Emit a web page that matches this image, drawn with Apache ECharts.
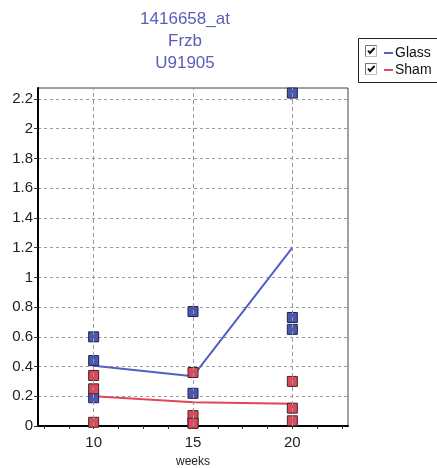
<!DOCTYPE html>
<html>
<head>
<meta charset="utf-8">
<script src="https://cdn.jsdelivr.net/npm/echarts@6/dist/echarts.min.js"></script>
<style>
  html, body { margin: 0; padding: 0; background: #fff; }
  #chart { width: 437px; height: 468px; }
</style>
</head>
<body>
<div id="chart"></div>
<script>
// Frzb expression (probe 1416658_at) by age, Glass vs Sham groups
const titleLines = ['1416658_at', 'Frzb', 'U91905'];
const weeks = [10, 15, 20];
const minorTicks = [7.5, 8.75, 10, 11.25, 12.5, 13.75, 15, 16.25, 17.5, 18.75, 20, 21.25, 22.5];

// individual samples per week
const glassSamples = [[0.60, 0.44, 0.19], [0.77, 0.22, 0.02], [2.24, 0.73, 0.65]];
const shamSamples  = [[0.34, 0.25, 0.025], [0.36, 0.07, 0.018], [0.30, 0.12, 0.035]];
// group trend lines
const glassTrend = [0.405, 0.335, 1.20];
const shamTrend  = [0.20, 0.16, 0.15];

const BLUE = '#5060c4', RED = '#e0485a';
const BLUE_FILL = '#4a58b2', RED_FILL = '#da4a5c';
const FONT = '"Liberation Sans Narrow", "Liberation Sans", Arial, sans-serif';

function points(samples) {
  const out = [];
  samples.forEach((vals, i) => vals.forEach(v => out.push([weeks[i], v])));
  return out;
}
const pairs = arr => arr.map((v, i) => [weeks[i], v]);

// sunken checkbox with a tick mark
function checkbox(top) {
  return { type: 'group', left: 363, top: top, children: [
    { type: 'rect', shape: { x: 0.5, y: 0.5, width: 11, height: 11 }, style: { fill: '#fff', stroke: '#bbb', lineWidth: 1 } },
    { type: 'polyline', shape: { points: [[0.5, 11.5], [0.5, 0.5], [11.5, 0.5]] }, style: { stroke: '#777', lineWidth: 1, fill: null } },
    { type: 'polyline', shape: { points: [[3, 5.5], [5, 8], [9.5, 3]] }, style: { stroke: '#111', lineWidth: 2, fill: null } }
  ] };
}

const chart = echarts.init(document.getElementById('chart'), null, { renderer: 'canvas' });

chart.setOption({
  animation: false,
  backgroundColor: '#fff',
  title: {
    text: titleLines.join('\n'),
    left: 180, top: 3, textAlign: 'center',
    textStyle: { fontFamily: FONT, fontSize: 17, fontWeight: 'normal', color: '#5c5cba', lineHeight: 22 }
  },
  legend: {
    orient: 'vertical', left: 379, top: 41, itemGap: 3,
    itemWidth: 9, itemHeight: 2, icon: 'rect',
    data: [{ name: 'Glass' }, { name: 'Sham' }],
    textStyle: { fontFamily: FONT, fontSize: 14, color: '#111', padding: [0, 0, 0, -3] },
    selectedMode: false
  },
  graphic: [
    { type: 'rect', shape: { x: 358.5, y: 38.5, width: 82, height: 44 }, style: { fill: '#fff', stroke: '#222', lineWidth: 1 }, z: -1 },
    checkbox(43),
    checkbox(61)
  ],
  grid: { left: 38, top: 88, right: 89, bottom: 42, outerBoundsMode: 'none', containLabel: false,
          show: true, borderColor: '#444', borderWidth: 1, backgroundColor: 'transparent' },
  xAxis: {
    type: 'value', min: 7.2, max: 22.8,
    name: 'weeks', nameLocation: 'middle', nameGap: 30,
    nameTextStyle: { fontFamily: FONT, fontSize: 12, color: '#222' },
    axisLine: { show: true, onZero: false, lineStyle: { color: '#000', width: 2 } },
    axisTick: { show: true, length: 3, customValues: minorTicks, lineStyle: { color: '#333' } },
    axisLabel: { customValues: weeks, margin: 9, fontFamily: FONT, fontSize: 15, color: '#222' },
    splitLine: { show: false }
  },
  yAxis: {
    type: 'value', min: 0, max: 2.274, interval: 0.2,
    axisLine: { show: true, lineStyle: { color: '#000', width: 2 } },
    axisTick: { show: true, length: 4, lineStyle: { color: '#333' } },
    axisLabel: { showMaxLabel: false, margin: 5, fontFamily: FONT, fontSize: 15, color: '#222',
                 formatter: v => String(Math.round(v * 10) / 10) },
    splitLine: { show: true, lineStyle: { color: '#9a9aa4', type: [3, 3], width: 1 } }
  },
  series: [
    {
      name: 'Glass', type: 'line', data: pairs(glassTrend), symbol: 'none',
      color: BLUE, lineStyle: { color: BLUE, width: 2 }, z: 2,
      markLine: {
        silent: true, symbol: 'none', label: { show: false },
        lineStyle: { color: '#9a9aa4', type: [4, 3], width: 1 },
        data: weeks.map(w => ({ xAxis: w }))
      }
    },
    {
      name: 'Sham', type: 'line', data: pairs(shamTrend), symbol: 'none',
      color: RED, lineStyle: { color: RED, width: 2 }, z: 2
    },
    {
      name: 'Glass', type: 'scatter', data: points(glassSamples), symbol: 'rect', symbolSize: 10,
      itemStyle: { color: BLUE_FILL, borderColor: '#23234a', borderWidth: 1, opacity: 1 }, z: 3
    },
    {
      name: 'Sham', type: 'scatter', data: points(shamSamples), symbol: 'rect', symbolSize: 10,
      itemStyle: { color: RED_FILL, borderColor: '#4a2323', borderWidth: 1, opacity: 1 }, z: 4
    }
  ]
});
</script>
</body>
</html>
